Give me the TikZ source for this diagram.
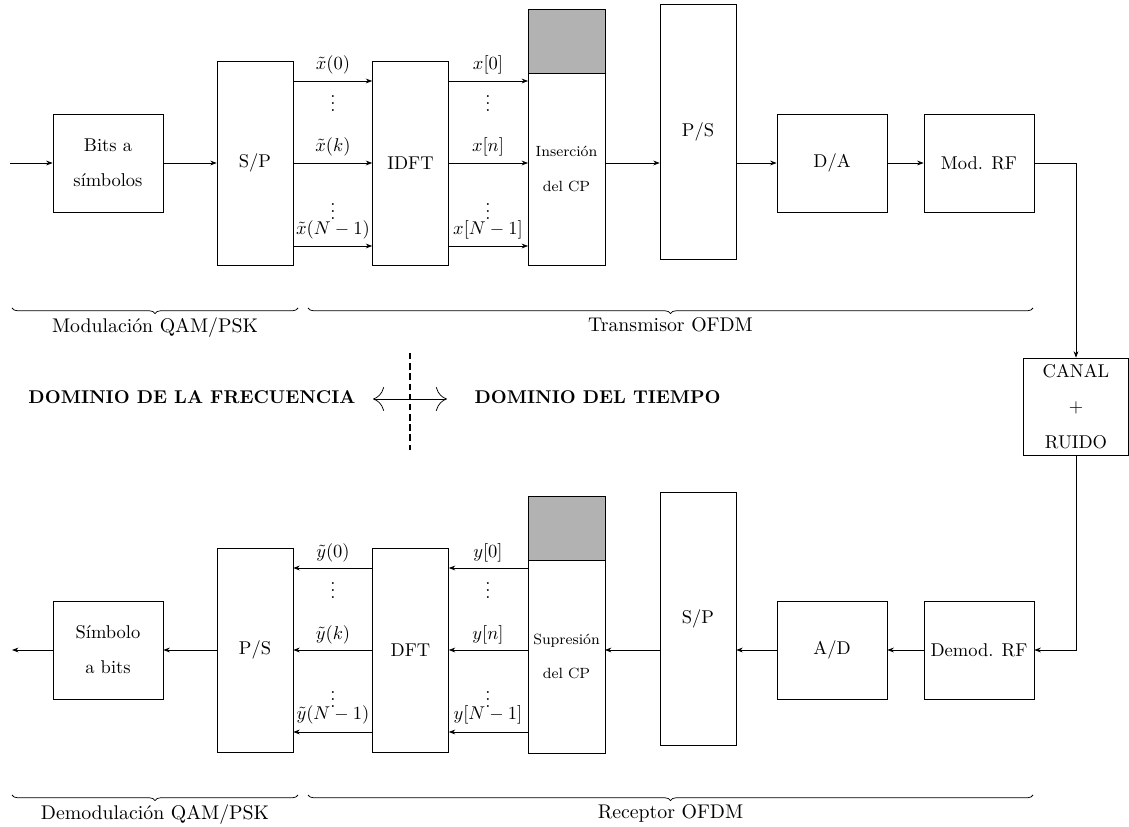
\documentclass[tikz,border=0pt]{standalone}
\usepackage{amsmath,amssymb}
\usepackage{fontspec}
\usepackage{tikz}
\usetikzlibrary{calc,arrows.meta,decorations.pathreplacing,positioning}

\begin{document}
\begin{tikzpicture}[x=0.019cm, y=-0.019cm, >={Stealth[length=3.5pt,width=2.6pt]},
  blk/.style={draw, minimum width=2.09cm, minimum height=1.86cm, align=center},
  col/.style={draw, minimum width=1.44cm, minimum height=3.88cm},
  cpbox/.style={draw, outer sep=0pt, minimum width=1.46cm, minimum height=3.65cm, align=center, font=\footnotesize, inner sep=1pt},
  cpgray/.style={draw, outer sep=0pt, fill=gray!60, minimum width=1.46cm, minimum height=1.2cm},
  brc/.style={decorate, decoration={brace, amplitude=3pt, mirror}},
  brlabel/.style={midway, below=1.5pt, font=\fontsize{10.7}{13}\selectfont}]
\useasboundingbox (0,0) rectangle (1129,827);

% transmisor
\coordinate (in) at (10,163);
\node[blk] (bits) at (108,163) {Bits a\\[7pt]símbolos};
\node[col] (sp1) at (255,163) {S/P};
\node[col] (idft) at (410.5,163) {IDFT};
\node[cpbox] (ins) at (566.5,169) {Inserción\\[9pt]del CP};
\node[cpgray, above=0pt of ins] (cp1) {};
\node[col, minimum height=4.83cm] (ps1) at (698,132) {P/S};
\node[blk] (da) at (832,163) {D/A};
\node[blk] (mod) at (979,163) {Mod. RF};
\node[blk, minimum width=2.0cm, minimum height=1.84cm] (canal) at (1076,406.5) {CANAL\\[7pt]$+$\\[7pt]RUIDO};

\node (xa) at (333,65) {$\tilde{x}(0)$};
\node (xb) at (333,98) {$\vdots$};
\node (xc) at (333,147) {$\tilde{x}(k)$};
\node (xd) at (333,206) {$\vdots$};
\node (xe) at (333,230) {$\tilde{x}(N-1)$};
\node (na) at (488,65) {$x[0]$};
\node (nb) at (488,98) {$\vdots$};
\node (nc) at (488,147) {$x[n]$};
\node (nd) at (488,206) {$\vdots$};
\node (ne) at (488,230) {$x[N-1]$};

\draw[->] (in) -- (bits);
\draw[->] (bits) -- (sp1);
\foreach \y in {81,163,246} {
  \draw[->] (sp1.east |- 0,\y) -- (idft.west |- 0,\y);
  \draw[->] (idft.east |- 0,\y) -- (ins.west |- 0,\y);
}
\draw[->] (ins.east |- bits) -- (ps1.west |- bits);
\draw[->] (ps1.east |- da) -- (da);
\draw[->] (da) -- (mod);
\draw[->] (mod) -| (canal);

% receptor
\node[blk] (demod) at (979,650) {Demod. RF};
\node[blk] (ad) at (832,650) {A/D};
\node[col, minimum height=4.81cm] (sp2) at (698,618.5) {S/P};
\node[cpbox, minimum height=3.67cm] (sup) at (566.5,656.5) {Supresión\\[9pt]del CP};
\node[cpgray, above=0pt of sup] (cp2) {};
\node[col] (dft) at (410.5,650) {DFT};
\node[col] (ps2) at (255,650) {P/S};
\node[blk] (sym) at (108,650) {Símbolo\\[7pt]a bits};
\coordinate (out) at (12,650);

\node (ya) at (333,553) {$\tilde{y}(0)$};
\node (yb) at (333,585) {$\vdots$};
\node (yc) at (333,635) {$\tilde{y}(k)$};
\node (yd) at (333,694) {$\vdots$};
\node (ye) at (333,715) {$\tilde{y}(N-1)$};
\node (ma) at (488,553) {$y[0]$};
\node (mb) at (488,585) {$\vdots$};
\node (mc) at (488,635) {$y[n]$};
\node (md) at (488,694) {$\vdots$};
\node (me) at (488,715) {$y[N-1]$};

\draw[->] (canal) |- (demod);
\draw[->] (demod) -- (ad);
\draw[->] (ad) -- (sp2.east |- ad);
\draw[->] (sp2.west |- ad) -- (sup.east |- ad);
\foreach \y in {568,650,732} {
  \draw[->] (sup.west |- 0,\y) -- (dft.east |- 0,\y);
  \draw[->] (dft.west |- 0,\y) -- (ps2.east |- 0,\y);
}
\draw[->] (ps2) -- (sym);
\draw[->] (sym) -- (out);

% llaves
\draw[brc] (12,308) -- (298,308) node[brlabel] (lmod) {Modulación QAM/PSK};
\draw[brc] (308,308) -- (1033,308) node[brlabel] (ltx) {Transmisor OFDM};
\draw[brc] (12,795) -- (298,795) node[brlabel] (ldem) {Demodulación QAM/PSK};
\draw[brc] (308,795) -- (1033,795) node[brlabel] (lrx) {Receptor OFDM};

% dominios
\node[font=\bfseries, anchor=east] (freq) at (362,397) {DOMINIO DE LA FRECUENCIA};
\node[font=\bfseries, anchor=west] (tiempo) at (468,397) {DOMINIO DEL TIEMPO};
\coordinate (dl) at (373,399);
\coordinate (dr) at (447,399);
\coordinate (dt) at (410,353);
\coordinate (db) at (410,450);
\draw[thick, dash pattern=on 3.5pt off 2pt] (dt) -- (db);
\draw[{Computer Modern Rightarrow[length=6pt,width=13pt]}-{Computer Modern Rightarrow[length=6pt,width=13pt]}] (dl) -- (dr);
\end{tikzpicture}
\end{document}
